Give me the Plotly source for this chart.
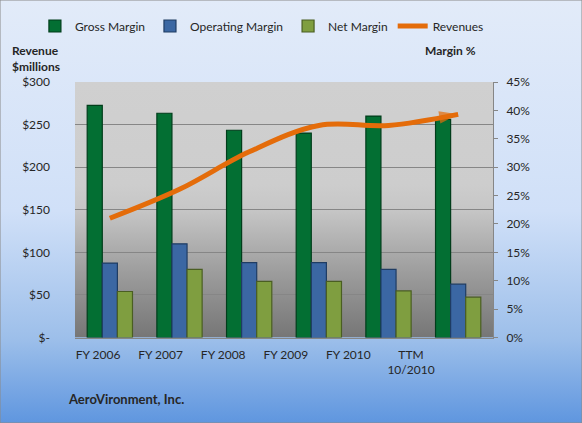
import plotly.graph_objects as go

# ---- data ----
categories = ["FY 2006", "FY 2007", "FY 2008", "FY 2009", "FY 2010", "TTM<br>10/2010"]
gross_margin = [40.9, 39.5, 36.5, 36.0, 39.0, 38.4]
operating_margin = [13.1, 16.5, 13.2, 13.2, 12.0, 9.4]
net_margin = [8.1, 12.0, 9.9, 9.9, 8.2, 7.1]
revenues = [140, 174, 218, 249, 249, 262]
rev_ticks = [0, 50, 100, 150, 200, 250, 300]
rev_tick_labels = ["$-", "$50", "$100", "$150", "$200", "$250", "$300"]
margin_ticks = [0, 5, 10, 15, 20, 25, 30, 35, 40, 45]
margin_tick_labels = ["0%", "5%", "10%", "15%", "20%", "25%", "30%", "35%", "40%", "45%"]

W, H = 582, 423
PL, PR, PT, PB = 75, 493, 82, 337.5
xdom = [PL / W, PR / W]
ydom = [1 - PB / H, 1 - PT / H]
FONT = "Lato"
TXT = "#262626"

fig = go.Figure()

# full-paper gradient background
fig.add_trace(go.Scatter(
    x=[0, 1, 1, 0, 0], y=[0, 0, 1, 1, 0], xaxis="x", yaxis="y",
    mode="lines", line=dict(width=0), fill="toself",
    fillgradient=dict(type="vertical", colorscale=[
        [0, "#5f96df"], [0.2, "#9dbfea"], [0.5, "#d0e0f8"], [1, "#e2ebf9"]]),
    showlegend=False, hoverinfo="skip"))

# plot-area gradient background
fig.add_trace(go.Scatter(
    x=[0, 1, 1, 0, 0], y=[0, 0, 1, 1, 0], xaxis="x2", yaxis="y2",
    mode="lines", line=dict(width=0), fill="toself",
    fillgradient=dict(type="vertical", colorscale=[
        [0, "#767676"], [0.25, "#9c9c9c"], [0.5, "#c6c6c6"], [0.6, "#cdcdcd"], [1, "#d0d0d0"]]),
    showlegend=False, hoverinfo="skip"))

bar_specs = [
    ("Gross Margin", gross_margin, "#036f33", "#013d1b"),
    ("Operating Margin", operating_margin, "#3b67a3", "#1f3c63"),
    ("Net Margin", net_margin, "#7f9e40", "#4a5e22"),
]
for name, vals, col, edge in bar_specs:
    fig.add_trace(go.Bar(
        x=categories, y=vals, name=name, xaxis="x3", yaxis="y3",
        marker=dict(color=col, line=dict(color=edge, width=1.2))))

n = len(revenues)
fig.add_trace(go.Scatter(
    x=categories, y=revenues, name="Revenues", xaxis="x3", yaxis="y4",
    mode="lines+markers", line=dict(color="#e46c0a", width=5, shape="spline"),
    marker=dict(symbol=["circle"] * (n - 1) + ["arrow"], size=[0] * (n - 1) + [20],
                angleref="previous", color="#e46c0a", line=dict(width=0))))

# invisible helper for shifted category labels
fig.add_trace(go.Scatter(
    x=list(range(n)), y=[None] * n, xaxis="x5", yaxis="y3",
    mode="markers", showlegend=False, hoverinfo="skip"))

fig.update_layout(
    width=W, height=H,
    margin=dict(l=0, r=0, t=0, b=0, pad=0, autoexpand=False),
    paper_bgcolor="#dfe9f8",
    plot_bgcolor="rgba(0,0,0,0)",
    font=dict(family=FONT, size=12, color=TXT),
    barmode="group", bargap=0.35, bargroupgap=0,
    showlegend=True,
    legend=dict(orientation="h", x=0.06, xanchor="left", y=1 - 26 / H, yanchor="middle",
                bgcolor="rgba(0,0,0,0)", font=dict(size=12, color=TXT),
                traceorder="normal", itemwidth=30),
    xaxis=dict(domain=[0, 1], range=[0, 1], visible=False, fixedrange=True, automargin=False),
    yaxis=dict(domain=[0, 1], range=[0, 1], visible=False, fixedrange=True, automargin=False),
    xaxis2=dict(domain=xdom, range=[0, 1], visible=False, anchor="y2", automargin=False),
    yaxis2=dict(domain=ydom, range=[0, 1], visible=False, anchor="x2", automargin=False),
    xaxis3=dict(domain=xdom, anchor="y3", type="category", showticklabels=False,
                showline=True, linecolor="#868686", linewidth=1, ticks="", showgrid=False,
                automargin=False),
    yaxis3=dict(domain=ydom, anchor="x3", side="right", range=[0, 45],
                tickvals=margin_ticks, ticktext=margin_tick_labels,
                showgrid=False, showline=True, linecolor="#868686", linewidth=1,
                ticks="outside", ticklen=4, tickcolor="#868686",
                ticklabelstandoff=6, zeroline=False, automargin=False),
    yaxis4=dict(overlaying="y3", anchor="x3", side="left", range=[0, 300],
                tickvals=rev_ticks, ticktext=rev_tick_labels,
                showgrid=True, gridcolor="#868686", gridwidth=1,
                showline=False, ticks="", ticklabelstandoff=24, zeroline=False,
                automargin=False),
    xaxis5=dict(domain=[66.7 / W, 442.3 / W], anchor="free", position=ydom[0],
                range=[-0.5, n - 0.5], tickvals=list(range(n)), ticktext=categories,
                showgrid=False, zeroline=False, showline=False, ticks="",
                ticklabelstandoff=8, automargin=False),
    annotations=[
        dict(text="<b>Revenue<br>$millions</b>", x=10 / W, y=1 - 41 / H, xref="paper", yref="paper",
             xanchor="left", yanchor="top", align="left", showarrow=False,
             font=dict(size=12, color=TXT)),
        dict(text="<b>Margin %</b>", x=478 / W, y=1 - 51 / H, xref="paper", yref="paper",
             xanchor="right", yanchor="middle", showarrow=False,
             font=dict(size=12, color=TXT)),
        dict(text="<b>AeroVironment, Inc.</b>", x=66 / W, y=1 - 399 / H, xref="paper", yref="paper",
             xanchor="left", yanchor="middle", showarrow=False,
             font=dict(size=13, color=TXT)),
    ],
    shapes=[dict(type="rect", xref="paper", yref="paper", x0=0, y0=0, x1=1, y1=1,
                 line=dict(color="#8a8a8a", width=1), fillcolor="rgba(0,0,0,0)", layer="above")],
)

post = (
    "document.documentElement.style.margin='0';document.documentElement.style.padding='0';"
    "document.body.style.margin='0';document.body.style.padding='0';"
    "document.body.style.overflow='hidden';"
    "var d=document.getElementById('{plot_id}');"
    "d.style.position='fixed';d.style.left='0px';d.style.top='0px';"
)
fig.write_html("out.html", config={"displayModeBar": False}, post_script=post)
